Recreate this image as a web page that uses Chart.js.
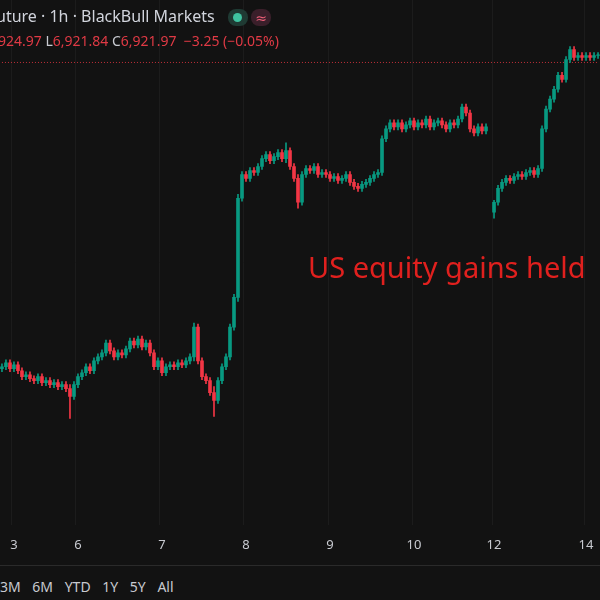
<!DOCTYPE html>
<html>
<head>
<meta charset="utf-8">
<script src="https://cdn.jsdelivr.net/npm/chart.js@4"></script>
<style>
  body { margin: 0; background: #121212; width: 600px; height: 600px; overflow: hidden; position: relative; font-family: "Noto Sans", "DejaVu Sans", sans-serif; }
  #wrap { position: absolute; left: -10px; top: 0; width: 620px; height: 565px; }
  .hdr { position: absolute; left: -4px; top: 5px; color: #d1d4dc; font-size: 16px; white-space: nowrap; }
  .ohlc { position: absolute; left: -2px; top: 31px; color: #e03a45; font-size: 14px; white-space: nowrap; }
  .ohlc b { color: #c8cad0; font-weight: normal; }
  .pill { position: absolute; top: 9px; width: 20px; height: 17px; border-radius: 8px; }
  .note { position: absolute; left: 308px; top: 247px; color: #e0201e; font-size: 29px; white-space: nowrap; }
  .sep { position: absolute; left: 0; top: 565px; width: 600px; height: 1px; background: #2a2a2a; }
  .ranges { position: absolute; left: 0; top: 577px; color: #c8cad0; font-size: 14px; word-spacing: 8px; white-space: nowrap; }
</style>
</head>
<body>
<div id="wrap"><canvas id="myChart" width="620" height="565"></canvas></div>
<div class="hdr">uture · 1h · BlackBull Markets</div>
<div class="pill" style="left:228px;background:#1f3a33"><span style="position:absolute;left:5px;top:4px;width:9px;height:9px;border-radius:5px;background:#3fc3a0"></span></div>
<div class="pill" style="left:251px;background:#3a1f2a;color:#f0607a;font-size:14px;text-align:center;line-height:17px">≈</div>
<div class="ohlc">924.97 <b>L</b>6,921.84 <b>C</b>6,921.97 &nbsp;−3.25 (−0.05%)</div>
<div class="note">US equity gains held</div>
<div class="sep"></div>
<div class="ranges">3M 6M YTD 1Y 5Y All</div>
<script>
// hourly closes, null = session gap
const closes = [
  6765,6767,6764,6766,6763,
  6760,6761,6759,6758,6760,6757,6758,6756,
  6757,6755,6756,6754,6750,
  6756,6760,6762,6765,6763,
  6768,6770,6772,6777,6773,
  6770,6772,6771,6774,6778,
  6776,6779,6775,6777,6772,
  6765,6768,6762,6765,
  6766,6765,6767,6766,6768,6770,
  6785,
  6768,6760,6758,6752,6748,
  6758,6765,6770,6785,
  6800,
  6850,
  6862,6860,6864,6863,6866,
  6870,6872,6869,6871,6873,6870,6874,
  6866,6860,6848,
  6862,6865,6864,6866,6862,
  6863,6862,6860,6861,6859,6860,6862,6858,
  6856,6855,6857,
  6858,6860,6862,6863,
  6880,6885,6888,
  6886,6888,6885,6887,6889,6886,6888,6887,6890,6886,6888,6889,6887,6885,6888,6887,
  6890,6896,6893,
  6885,6883,6886,6884,6886,
  null,
  6848,6855,6858,6860,6859,
  6861,6862,6861,6863,6864,6862,
  6865,
  6885,6895,6900,
  6905,6912,6910,
  6920,6925,
  6921,6922,6921,6922,6921,6922,6922
];
const gapOpen = 6843;
// long wicks [bar index, high, low]
const spikes = [[17, 6756, 6739], [48, 6787, 6768], [53, 6755, 6740], [71, 6878, 6868], [74, 6862, 6845], [59, 6852, 6798], [123, 6849, 6840]];
const dayLabels = { 3: '3', 19: '6', 40: '7', 61: '8', 82: '9', 103: '10', 123: '12', 146: '14' };
const lastPrice = 6918.5;

const opens = closes.map((c, i) => i === 0 ? 6764 : (closes[i - 1] === null ? gapOpen : closes[i - 1]));
const bodies = closes.map((c, i) => c === null ? null : [opens[i], c === opens[i] ? c + 0.3 : c]);
const wicks = closes.map((c, i) => {
  if (c === null) return null;
  const s = spikes.find(p => p[0] === i);
  if (s) return [s[2], s[1]];
  return [Math.min(c, opens[i]) - 1.5, Math.max(c, opens[i]) + 1.5];
});
const colors = closes.map((c, i) => c !== null && c >= opens[i] ? '#089981' : '#f23645');

const ctx = document.getElementById('myChart').getContext('2d');
new Chart(ctx, {
  data: {
    labels: closes.map((c, i) => i),
    datasets: [
      { type: 'line', data: closes.map(() => lastPrice), borderColor: '#c0303a', borderWidth: 1, borderDash: [1, 2], pointRadius: 0, order: 3 },
      { type: 'bar', data: wicks, backgroundColor: colors, barThickness: 1, grouped: false, order: 2 },
      { type: 'bar', data: bodies, backgroundColor: colors, barThickness: 3, grouped: false, order: 1 }
    ]
  },
  options: {
    animation: false,
    responsive: false,
    layout: { padding: 0 },
    plugins: { legend: { display: false }, tooltip: { enabled: false } },
    scales: {
      x: {
        offset: true,
        grid: { display: true, color: c => dayLabels[c.index] ? '#1c1c1c' : 'transparent', drawTicks: false },
        border: { display: false },
        ticks: { autoSkip: false, maxRotation: 0, padding: 12, color: '#c8cad0', font: { size: 13, family: 'Noto Sans' },
          callback: (v, i) => dayLabels[i] || '' }
      },
      y: { display: false, min: 6685, max: 6950 }
    }
  }
});
</script>
</body>
</html>
